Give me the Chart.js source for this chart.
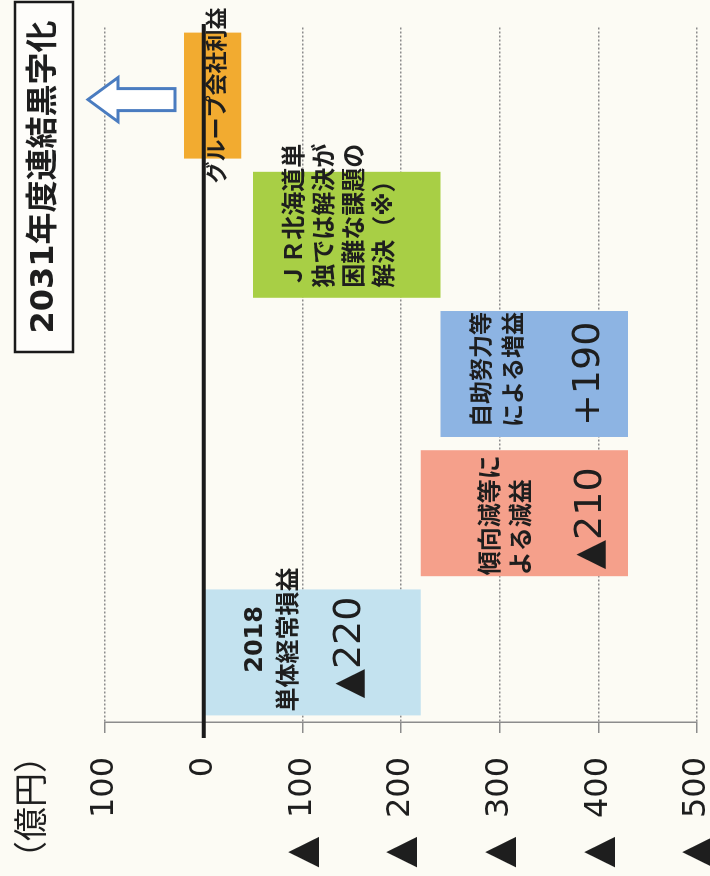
<!DOCTYPE html>
<html>
<head>
<meta charset="utf-8">
<script src="https://cdn.jsdelivr.net/npm/chart.js@4"></script>
<style>
  html, body { margin: 0; padding: 0; background: #fcfbf4; overflow: hidden; }
  /* chart is drawn upright, then turned a quarter left like the printed page */
  #wrap {
    position: absolute; left: 0; top: 0;
    width: 876px; height: 710px;
    transform-origin: 0 0;
    transform: translate(0, 876px) rotate(-90deg);
  }
</style>
</head>
<body>
<div id="wrap"><canvas id="chart" width="876" height="710"></canvas></div>
<script>
/* -------------------- DATA -------------------- */
const categories = [
    "2018単体経常損益",
    "傾向減等による減益",
    "自助努力等による増益",
    "JR北海道単独では解決困難な課題の解決（※）",
    "グループ会社利益"
];
const barStart = [0, -220, -430, -240, -38];
const barEnd = [-220, -430, -240, -50, 20];

const labelLines = [
    ["2018", "単体経常損益"],
    ["傾向減等に", "よる減益"],
    ["自助努力等", "による増益"],
    ["ＪＲ北海道単", "独では解決が", "困難な課題の", "解決（※）"],
    ["グループ会社利益"]
];
const valueLabels = ["▲220", "▲210", "+190", "", ""];

const tickValues = [100, 0, -100, -200, -300, -400, -500];
const tickLabels = ["100", "0", "▲100", "▲200", "▲300", "▲400", "▲500"];

const unitLabel = "（億円）";
const goalLabel = "2031年度連結黒字化";

/* -------------------- STYLE -------------------- */
const barColors = ["#c3e2ef", "#f5a08b", "#8db4e3", "#a8cf45", "#f2ab30"];
const JP = "'DejaVu Sans', 'Noto Sans CJK JP', sans-serif";
const NUM = "'DejaVu Sans', sans-serif";
const INK = "#1e1e1e";

// where the text sits inside each bar, offsets in px from the bar's upper edge
const labelLayout = [
    { align: "center", dx: 13, lines: [51, 85], value: 146, valueDx: 5, size: 24 },
    { align: "left", dx: 1, lines: [71, 102], value: 170, valueDx: 7, size: 24 },
    { align: "left", dx: 10, lines: [43, 75], value: 149, valueDx: 11, size: 23 },
    { align: "left", dx: 10, lines: [43, 73, 103, 133], size: 24 },
    { align: "center", dx: 0, lines: [34], size: 22 }
];

/* -------------------- PLUGINS -------------------- */
const background = {
    id: "background",
    beforeDraw(chart) {
        const ctx = chart.ctx;
        ctx.save();
        ctx.fillStyle = "#fcfbf4";
        ctx.fillRect(0, 0, chart.width, chart.height);
        ctx.restore();
    }
};

const annotations = {
    id: "annotations",
    afterDatasetsDraw(chart) {
        const ctx = chart.ctx;
        const area = chart.chartArea;
        const y = chart.scales.y;
        const bars = chart.getDatasetMeta(0).data;

        ctx.save();

        /* zero line over the bars */
        const y0 = y.getPixelForValue(0);
        ctx.strokeStyle = "#1a1a1a";
        ctx.lineWidth = 4;
        ctx.beginPath();
        ctx.moveTo(area.left - 16, y0);
        ctx.lineTo(area.right + 2, y0);
        ctx.stroke();

        /* the ▲ of negative ticks, set apart and larger than the digits */
        ctx.fillStyle = INK;
        ctx.textBaseline = "middle";
        ctx.textAlign = "center";
        ctx.font = "40px " + NUM;
        tickValues.forEach((v, i) => {
            if (tickLabels[i].startsWith("▲")) {
                ctx.fillText("▲", area.left - 130, y.getPixelForValue(v) + 1);
            }
        });

        /* texts in the bars */
        bars.forEach((bar, i) => {
            const lay = labelLayout[i];
            const top = Math.min(bar.y, bar.base);
            const left = bar.x - bar.width / 2;
            const ax = lay.align === "center" ? bar.x + lay.dx : left + lay.dx;
            ctx.textAlign = lay.align;
            ctx.font = "bold " + lay.size + "px " + JP;
            labelLines[i].forEach((line, k) => {
                ctx.fillText(line, ax, top + lay.lines[k]);
            });
            if (valueLabels[i]) {
                ctx.font = "38px " + NUM;
                const vx = lay.align === "center" ? bar.x + lay.valueDx : left + lay.valueDx;
                ctx.fillText(valueLabels[i], vx, top + lay.value);
            }
        });

        /* unit */
        ctx.textAlign = "left";
        ctx.font = "34px 'Noto Sans CJK JP', sans-serif";
        ctx.fillText(unitLabel, 1, 30);

        /* arrow above the last bar, pointing to the black */
        const last = bars[bars.length - 1];
        const ax = last.x - 4;
        const barTop = Math.min(last.y, last.base);
        const tip = barTop - 96, neck = barTop - 66, tail = barTop - 9;
        ctx.beginPath();
        ctx.moveTo(ax, tip);
        ctx.lineTo(ax + 22, neck);
        ctx.lineTo(ax + 11, neck);
        ctx.lineTo(ax + 11, tail);
        ctx.lineTo(ax - 11, tail);
        ctx.lineTo(ax - 11, neck);
        ctx.lineTo(ax - 22, neck);
        ctx.closePath();
        ctx.fillStyle = "#ffffff";
        ctx.fill();
        ctx.strokeStyle = "#4a7cc0";
        ctx.lineWidth = 3;
        ctx.lineJoin = "miter";
        ctx.stroke();

        /* goal box */
        ctx.fillStyle = "rgba(255,255,255,0.5)";
        ctx.fillRect(524, 15, 350, 58);
        ctx.strokeStyle = "#1a1a1a";
        ctx.lineWidth = 2.5;
        ctx.strokeRect(524, 15, 350, 58);
        ctx.fillStyle = INK;
        ctx.textAlign = "center";
        ctx.font = "bold 32px " + JP;
        ctx.fillText(goalLabel, 699, 45);

        ctx.restore();
    }
};

/* -------------------- CHART -------------------- */
new Chart(document.getElementById("chart"), {
    type: "bar",
    data: {
        labels: categories,
        datasets: [{
            data: categories.map((c, i) => [barStart[i], barEnd[i]]),
            backgroundColor: barColors,
            borderWidth: 0,
            borderSkipped: false,
            barPercentage: 0.905,
            categoryPercentage: 1
        }]
    },
    options: {
        responsive: false,
        animation: false,
        layout: { padding: { top: 105, right: 26, bottom: 13, left: 0 } },
        plugins: {
            legend: { display: false },
            tooltip: { enabled: false }
        },
        scales: {
            x: { display: false },
            y: {
                min: -500,
                max: 100,
                afterFit(scale) {
                    scale.width = 154;
                    scale.paddingTop = 0;
                    scale.paddingBottom = 0;
                },
                afterBuildTicks(scale) {
                    scale.ticks = tickValues.map(v => ({ value: v }));
                },
                ticks: {
                    padding: 24,
                    color: INK,
                    font: { family: NUM, size: 32 },
                    // digits only; the ▲ is drawn by the annotations plugin
                    callback: v => tickLabels[tickValues.indexOf(v)].replace("▲", "")
                },
                grid: {
                    color: c => (c.tick && c.tick.value === 0) ? "rgba(0,0,0,0)" : "#8c8c8c",
                    tickColor: "#8c8c8c",
                    lineWidth: 1.5,
                    tickLength: 11
                },
                border: { display: true, color: "#8c8c8c", width: 1.5, dash: [2, 2] }
            }
        }
    },
    plugins: [background, annotations]
});
</script>
</body>
</html>
